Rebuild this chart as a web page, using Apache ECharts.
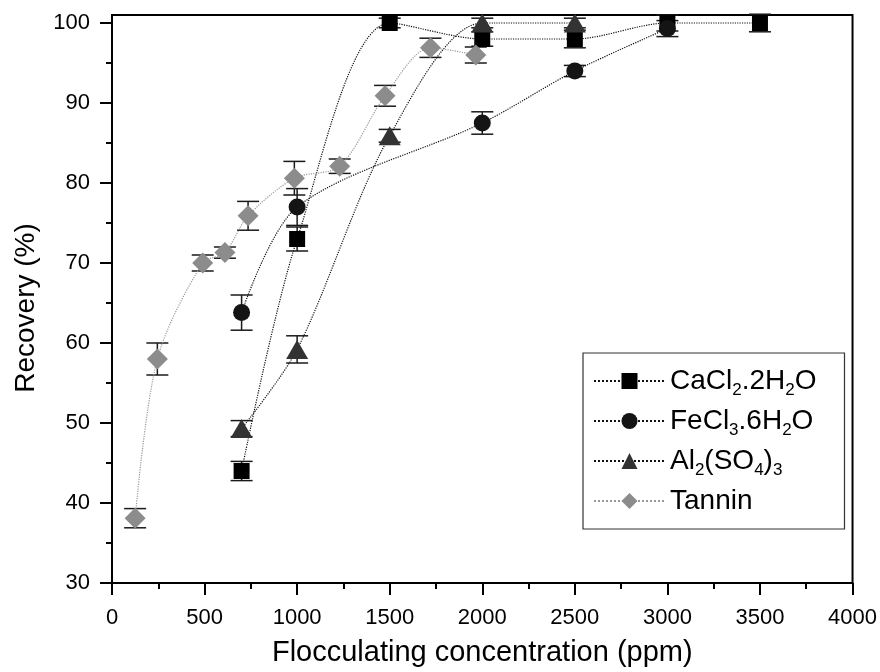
<!DOCTYPE html>
<html>
<head>
<meta charset="utf-8">
<script src="https://cdn.jsdelivr.net/npm/echarts@6/dist/echarts.min.js"></script>
<style>
  html, body { margin: 0; padding: 0; background: #fff; }
  #chart { width: 880px; height: 672px; }
</style>
</head>
<body>
<div id="chart"></div>
<script>
// CaCl2.2H2O
var concCa = [700, 1000, 1500, 2000, 2500, 3000, 3500];
var recCa = [44, 73, 100, 98, 98, 100, 100];
var errCa = [1.2, 1.5, 0.6, 0.9, 1.1, 1.0, 1.1];
// FeCl3.6H2O
var concFe = [700, 1000, 2000, 2500, 3000];
var recFe = [63.8, 77, 87.5, 94, 99.3];
var errFe = [2.2, 2.3, 1.4, 0.7, 1.0];
// Al2(SO4)3
var concAl = [700, 1000, 1500, 2000, 2500];
var recAl = [49.3, 59.2, 85.9, 100, 100];
var errAl = [1.0, 1.7, 0.8, 0.6, 0.6];
// Tannin
var concTa = [125, 245, 490, 610, 735, 985, 1230, 1475, 1720, 1965];
var recTa = [38.1, 58.0, 70.0, 71.3, 75.9, 80.6, 82.1, 90.9, 96.9, 96.0];
var errTa = [1.2, 2.0, 1.0, 0.7, 1.8, 2.1, 0.9, 1.3, 1.2, 1.0];

var seriesNames = ['CaCl2.2H2O', 'FeCl3.6H2O', 'Al2(SO4)3', 'Tannin'];
var yTicks = [30, 40, 50, 60, 70, 80, 90, 100];
var yMinorTicks = [35, 45, 55, 65, 75, 85, 95];

var legendRich = {
  'CaCl2.2H2O': 'CaCl{s|2}.2H{s|2}O',
  'FeCl3.6H2O': 'FeCl{s|3}.6H{s|2}O',
  'Al2(SO4)3': 'Al{s|2}(SO{s|4}){s|3}',
  'Tannin': 'Tannin'
};

var FONT = 'Liberation Sans, Arial, sans-serif';

function zip(xs, ys) {
  return xs.map(function (x, i) { return [x, ys[i]]; });
}
function zipErr(xs, ys, es) {
  return xs.map(function (x, i) { return [x, ys[i], es[i]]; });
}

// error bars drawn by custom series (kept out of the legend)
function errorBars(name, xs, ys, es) {
  return {
    name: 'err ' + name,
    type: 'custom',
    z: 1,
    silent: true,
    data: zipErr(xs, ys, es),
    renderItem: function (params, api) {
      var x = api.value(0), y = api.value(1), e = api.value(2);
      var hi = api.coord([x, y + e]);
      var lo = api.coord([x, y - e]);
      var w = 11;
      var st = { stroke: '#1a1a1a', lineWidth: 1.5 };
      return {
        type: 'group',
        children: [
          { type: 'line', shape: { x1: hi[0], y1: hi[1], x2: lo[0], y2: lo[1] }, style: st },
          { type: 'line', shape: { x1: hi[0] - w, y1: hi[1], x2: hi[0] + w, y2: hi[1] }, style: st },
          { type: 'line', shape: { x1: lo[0] - w, y1: lo[1], x2: lo[0] + w, y2: lo[1] }, style: st }
        ]
      };
    }
  };
}

function lineSeries(name, xs, ys, symbol, size, color, lineColor) {
  return {
    name: name,
    type: 'line',
    z: 3,
    smooth: 0.3,
    data: zip(xs, ys),
    symbol: symbol,
    symbolSize: size,
    showAllSymbol: true,
    itemStyle: { color: color, opacity: 1 },
    lineStyle: { type: 'dotted', width: 1.2, color: lineColor },
    emphasis: { disabled: true },
    animation: false
  };
}

var chart = echarts.init(document.getElementById('chart'));

chart.setOption({
  backgroundColor: '#fff',
  animation: false,
  textStyle: { fontFamily: FONT },
  grid: {
    left: 112, right: 26, top: 15, bottom: 89,
    show: true, borderColor: '#000', borderWidth: 2, backgroundColor: 'transparent'
  },
  legend: {
    orient: 'vertical',
    left: 583, top: 353,
    padding: [10, 28, 10, 10],
    itemGap: 4,
    itemWidth: 71,
    itemHeight: 20,
    borderColor: '#333',
    borderWidth: 1.2,
    borderRadius: 0,
    data: seriesNames,
    formatter: function (n) { return legendRich[n]; },
    textStyle: {
      fontFamily: FONT,
      fontSize: 28,
      color: '#000',
      lineHeight: 36,
      rich: {
        s: { fontSize: 17, fontFamily: FONT, color: '#000', verticalAlign: 'bottom', lineHeight: 17 }
      }
    }
  },
  xAxis: {
    type: 'value',
    min: 0, max: 4000, interval: 500,
    name: 'Flocculating concentration (ppm)',
    nameLocation: 'middle',
    nameGap: 55,
    nameTextStyle: { fontSize: 29, color: '#000', fontFamily: FONT },
    axisLine: { onZero: false, lineStyle: { color: '#000', width: 2 } },
    axisTick: { length: 12, lineStyle: { color: '#000', width: 2 } },
    minorTick: { show: true, splitNumber: 2, length: 6, lineStyle: { color: '#000', width: 2 } },
    axisLabel: {
      fontSize: 22, color: '#000', margin: 24, fontFamily: FONT,
      formatter: function (v) { return String(v); }
    },
    splitLine: { show: false }
  },
  yAxis: [{
    type: 'value',
    min: 30, max: 101,
    name: 'Recovery (%)',
    nameLocation: 'middle',
    nameGap: 72,
    nameTextStyle: { fontSize: 28, color: '#000', fontFamily: FONT, padding: [0, 18, 0, 0] },
    axisLine: { onZero: false, lineStyle: { color: '#000', width: 2 } },
    axisTick: { length: 12, customValues: yTicks, lineStyle: { color: '#000', width: 2 } },
    axisLabel: { fontSize: 22, color: '#000', margin: 22, customValues: yTicks, fontFamily: FONT },
    splitLine: { show: false }
  }, {
    type: 'value',
    min: 30, max: 101,
    position: 'left',
    axisLine: { show: false },
    axisTick: { length: 6, customValues: yMinorTicks, lineStyle: { color: '#000', width: 2 } },
    axisLabel: { show: false },
    splitLine: { show: false }
  }],
  series: [
    errorBars('CaCl2.2H2O', concCa, recCa, errCa),
    errorBars('FeCl3.6H2O', concFe, recFe, errFe),
    errorBars('Al2(SO4)3', concAl, recAl, errAl),
    errorBars('Tannin', concTa, recTa, errTa),
    lineSeries('CaCl2.2H2O', concCa, recCa, 'rect', 16, '#000', '#111'),
    lineSeries('FeCl3.6H2O', concFe, recFe, 'circle', 17, '#141414', '#111'),
    lineSeries('Al2(SO4)3', concAl, recAl, 'triangle', [22, 19], '#333', '#111'),
    lineSeries('Tannin', concTa, recTa, 'diamond', [21, 21], '#8c8c8c', '#9a9a9a')
  ]
});
</script>
</body>
</html>
